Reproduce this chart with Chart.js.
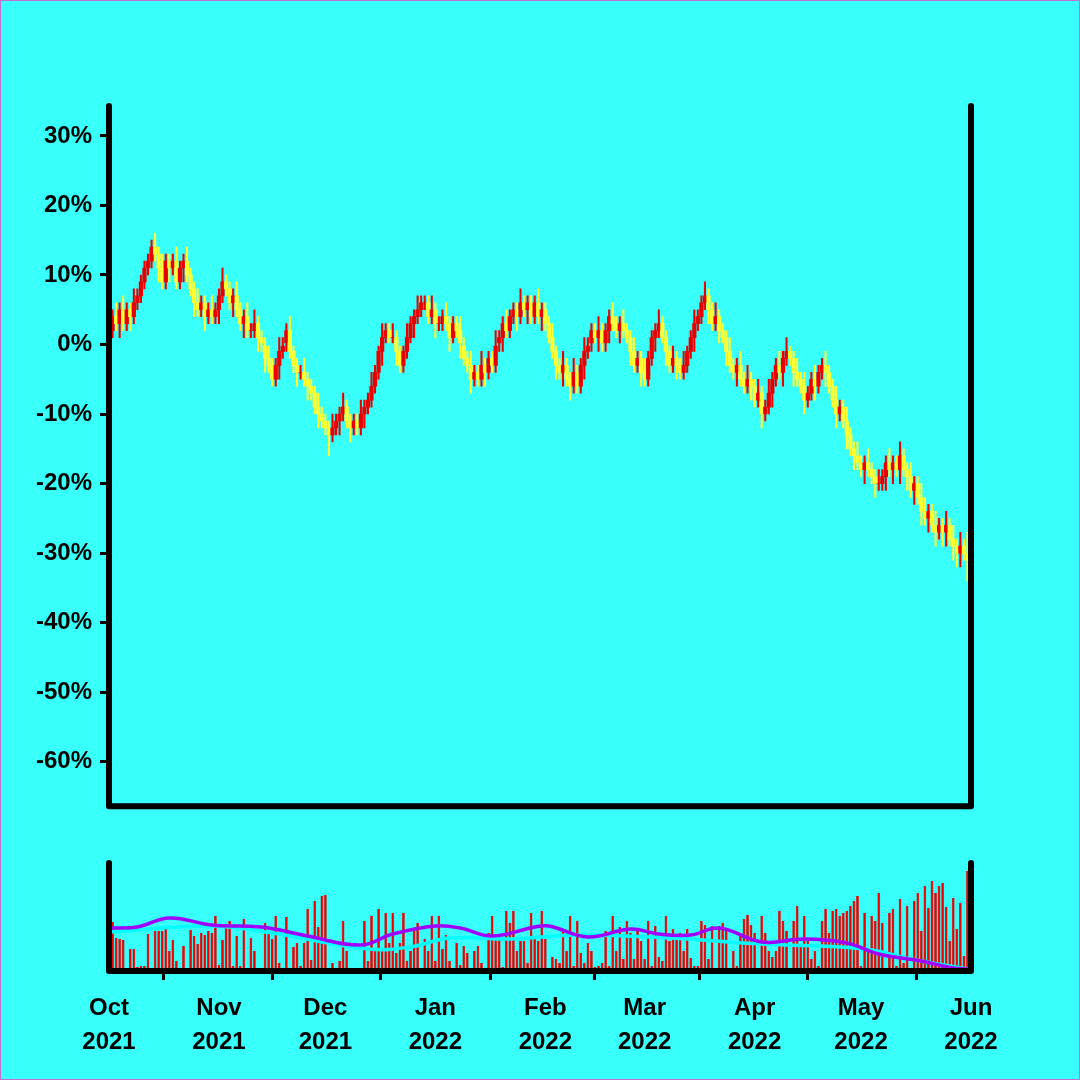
<!DOCTYPE html>
<html>
<head>
<meta charset="utf-8">
<script src="https://cdn.jsdelivr.net/npm/chart.js@4/dist/chart.umd.min.js"></script>
<style>
  html, body { margin: 0; padding: 0; background: #38fffa; }
  #wrap { position: relative; width: 1080px; height: 1080px; box-sizing: border-box; border: 1px solid #c86ed2; }
  canvas { position: absolute; left: 0; }
</style>
</head>
<body>
<div id="wrap">
  <canvas id="priceChart" style="top:0" width="1080" height="830"></canvas>
  <canvas id="volChart" style="top:840px" width="1080" height="240"></canvas>
</div>
<script>
// daily closes, % vs start (1 Oct 2021 .. 31 May 2022)
const closes = [
  2,4,3,5,3,5,4,6,7,9,
  11,12,14,13,11,9,12,11,12,9,
  11,12,10,8,6,5,6,4,5,4,
  5,7,9,8,6,7,5,3,4,2,
  2,3,1,0,-2,-3,-5,-3,-1,0,
  2,-1,-3,-4,-4,-5,-6,-7,-9,-10,
  -11,-12,-13,-12,-11,-10,-9,-11,-12,-11,
  -12,-10,-9,-8,-6,-4,-1,1,2,1,
  1,-1,-3,-1,1,3,4,5,6,6,
  4,5,3,3,4,3,1,3,2,0,
  -2,-3,-5,-4,-5,-3,-4,-2,-3,0,
  1,3,2,4,5,4,6,5,6,4,
  6,4,5,3,1,-1,-3,-4,-3,-5,
  -6,-4,-6,-3,-1,0,2,1,2,0,
  2,4,3,2,3,2,1,-1,-3,-2,
  -4,-5,-2,1,2,3,1,-1,-3,-2,
  -3,-4,-3,-1,1,3,4,6,7,5,
  3,4,2,1,-1,-3,-4,-3,-5,-6,
  -5,-6,-8,-7,-10,-9,-7,-5,-3,-4,
  -2,-1,-2,-4,-5,-6,-8,-7,-5,-6,
  -4,-3,-4,-6,-8,-10,-9,-11,-13,-15,
  -16,-17,-18,-17,-18,-19,-20,-20,-19,-17,
  -18,-17,-18,-16,-18,-19,-21,-20,-22,-24,
  -25,-24,-26,-27,-26,-27,-26,-28,-29,-30,
  -29,-30,-31
];
const firstOpen = 1;
const wickUp = [
  2,1,2,1,2,1,1,2,1,1, 1,1,1,2,1,2,1,1,1,2, 1,1,2,1,1,2,1,1,1,2,
  1,1,2,1,1,1,2,1,1,2, 1,2,1,1,1,2,1,1,2,1, 1,2,1,1,1,2,1,1,1,2,
  1,1,1,2,1,1,2,1,1,1, 1,2,1,1,2,1,1,2,1,1, 2,1,1,1,2,1,1,2,1,1,
  1,2,1,1,1,2,1,1,1,2, 1,1,2,1,1,2,1,1,1,2, 1,1,2,1,1,1,2,1,1,1,
  1,2,1,1,1,2,1,1,2,1, 1,2,1,1,2,1,1,1,2,1, 1,1,2,1,1,2,1,1,2,1,
  1,2,1,1,1,2,1,1,1,2, 1,1,2,1,1,2,1,1,2,1, 1,2,1,1,1,2,1,1,2,1,
  2,1,1,2,1,1,2,1,1,2, 1,2,1,1,2,1,2,1,1,2, 1,1,2,1,1,2,1,1,2,1,
  1,2,1,1,2,1,1,2,1,1, 2,1,1,2,1,1,2,1,1,2, 2,1,1,2,1,1,2,1,2,1,
  2,1,3
];
const wickDn = [
  2,1,1,2,1,1,2,1,1,1, 1,1,1,1,2,1,1,2,1,1, 1,2,1,1,2,1,1,2,1,1,
  1,2,1,1,1,2,1,1,2,1, 1,1,2,1,2,1,1,1,2,1, 1,1,1,2,1,1,2,1,1,2,
  1,1,3,1,1,2,1,1,2,1, 1,1,2,1,1,1,1,2,1,1, 1,2,1,1,1,1,2,1,1,1,
  1,1,2,1,1,1,2,1,1,2, 1,1,2,1,1,1,2,1,1,1, 1,2,1,1,1,2,1,1,2,1,
  1,1,2,1,1,1,2,1,2,1, 2,1,1,1,2,1,1,1,2,1, 1,2,1,1,2,1,1,2,1,1,
  2,1,1,1,2,1,1,2,1,1, 2,1,1,1,1,2,1,1,1,2, 1,1,2,1,2,1,1,2,1,1,
  1,2,1,1,2,1,1,2,1,1, 2,1,1,2,1,1,2,1,1,2, 1,1,2,1,1,2,1,1,2,1,
  2,1,1,2,1,1,2,1,1,2, 1,2,1,2,1,2,1,2,1,2, 1,2,1,2,1,2,2,1,2,2,
  2,1,3
];
const volumes = [
  7,49,33,32,31,3,22,22,4,5,
  5,37,3,40,40,40,42,20,31,10,
  1,25,0,41,35,27,38,36,40,38,
  55,6,31,45,50,5,35,5,52,3,
  33,20,1,0,48,38,32,55,8,1,
  54,2,24,28,5,28,62,11,70,44,
  75,76,2,8,1,10,50,20,0,3,
  1,2,50,10,55,20,62,20,58,28,
  58,18,28,58,10,20,40,48,0,32,
  20,55,10,55,22,36,10,3,28,6,
  25,18,0,20,25,8,0,38,55,32,
  35,4,60,48,60,20,30,30,8,58,
  35,30,60,32,3,14,12,8,40,20,
  55,5,50,18,8,28,20,4,5,8,
  40,5,55,20,44,12,50,38,12,40,
  30,12,50,5,45,14,10,55,30,42,
  32,38,20,42,13,5,5,50,46,12,
  45,0,45,48,42,0,20,5,36,52,
  56,46,38,3,55,38,20,14,20,60,
  50,40,0,50,65,25,55,30,12,20,
  5,50,62,38,60,62,55,58,60,65,
  70,75,5,58,22,55,50,78,48,0,
  58,62,5,72,8,65,3,70,78,40,
  85,63,90,78,85,88,64,30,73,42,
  68,15,100
];
// moving averages of volume, read at a few days
const maFastDays = [0,8,17,29,43,56,71,80,92,99,108,120,124,135,147,155,164,172,184,196,208,217,229,238,242];
const maFast     = [43,44,53,46,44,35,26,37,45,43,35,44,45,34,42,37,36,43,29,32,28,17,10,3,2];
const maSlowDays = [0,29,46,73,85,96,113,132,158,184,213,226,242];
const maSlow     = [39,45,38,22,24,33,32,36,33,27,22,12,2];

const monthDays = [0,31,61,92,123,151,182,212,243];
const monthLabels = [["Oct","2021"],["Nov","2021"],["Dec","2021"],["Jan","2022"],["Feb","2022"],["Mar","2022"],["Apr","2022"],["May","2022"],["Jun","2022"]];
const pctTicks = [-60,-50,-40,-30,-20,-10,0,10,20,30];

const RED = "#e80000", YEL = "#ffff33";
const FONT = { family: "'Liberation Sans', Arial, sans-serif", size: 24, weight: "bold", lineHeight: 1.4 };
const LEFT = 108, RIGHT = 110;

const opens = closes.map((c, i) => i === 0 ? firstOpen : closes[i - 1]);
const bodies = closes.map((c, i) => ({ x: i, y: [opens[i], c] }));
const wicks = closes.map((c, i) => ({ x: i, y: [Math.min(opens[i], c) - wickDn[i], Math.max(opens[i], c) + wickUp[i]] }));
const colors = closes.map((c, i) => c >= opens[i] ? RED : YEL);

const frame = {
  id: "frame",
  afterDraw(chart) {
    const { ctx, chartArea: a } = chart;
    ctx.save();
    ctx.strokeStyle = "#000";
    ctx.lineWidth = 6;
    ctx.lineCap = "round";
    ctx.lineJoin = "round";
    ctx.beginPath();
    ctx.moveTo(a.left, a.top);
    ctx.lineTo(a.left, a.bottom);
    ctx.lineTo(a.right, a.bottom);
    ctx.lineTo(a.right, a.top);
    ctx.stroke();
    ctx.restore();
  }
};

const xBase = { type: "linear", min: 0, max: 243, offset: false };

new Chart(document.getElementById("priceChart"), {
  type: "bar",
  data: {
    datasets: [
      { data: wicks, backgroundColor: colors, barThickness: 1.4, grouped: false, order: 2 },
      { data: bodies, backgroundColor: colors, barThickness: 3.6, grouped: false, order: 1 }
    ]
  },
  options: {
    responsive: false,
    animation: false,
    layout: { padding: { top: 105, right: RIGHT, bottom: 20, left: 0 } },
    plugins: { legend: { display: false }, tooltip: { enabled: false } },
    scales: {
      x: { ...xBase, display: false },
      y: {
        min: -66.4, max: 34.3,
        afterBuildTicks: (s) => { s.ticks = pctTicks.map(v => ({ value: v })); },
        afterFit: (s) => { s.width = LEFT; },
        border: { display: false },
        grid: { drawOnChartArea: false, drawTicks: true, tickLength: 9, color: "#000", lineWidth: 3 },
        ticks: { color: "#000", font: FONT, padding: 8, callback: v => v + "%" }
      }
    }
  },
  plugins: [frame]
});

new Chart(document.getElementById("volChart"), {
  type: "bar",
  data: {
    datasets: [
      { type: "line", data: maFastDays.map((d, i) => ({ x: d, y: maFast[i] })), borderColor: "#a000ff", borderWidth: 3.5, pointRadius: 0, tension: 0.4, order: 1 },
      { type: "line", data: maSlowDays.map((d, i) => ({ x: d, y: maSlow[i] })), borderColor: "#00ffff", borderWidth: 3.5, pointRadius: 0, tension: 0.4, order: 2 },
      { data: volumes.map((v, i) => ({ x: i, y: v })), backgroundColor: "#f00000", borderColor: "#b05050", borderWidth: { left: 0.6, right: 0.6, top: 0, bottom: 0 }, barThickness: 2.2, order: 3 }
    ]
  },
  options: {
    responsive: false,
    animation: false,
    layout: { padding: { top: 22, right: RIGHT, bottom: 0, left: LEFT } },
    plugins: { legend: { display: false }, tooltip: { enabled: false } },
    scales: {
      x: {
        ...xBase,
        afterBuildTicks: (s) => { s.ticks = monthDays.map(v => ({ value: v })); },
        afterFit: (s) => { s.height = 110; },
        border: { display: false },
        grid: { drawOnChartArea: false, drawTicks: true, tickLength: 9, color: "#000", lineWidth: 3 },
        ticks: {
          color: "#000", font: FONT, padding: 12, maxRotation: 0, autoSkip: false,
          callback: v => { const k = monthDays.indexOf(v); return k >= 0 ? monthLabels[k] : ""; }
        }
      },
      y: { display: false, min: 0, max: 108 }
    }
  },
  plugins: [frame]
});
</script>
</body>
</html>
